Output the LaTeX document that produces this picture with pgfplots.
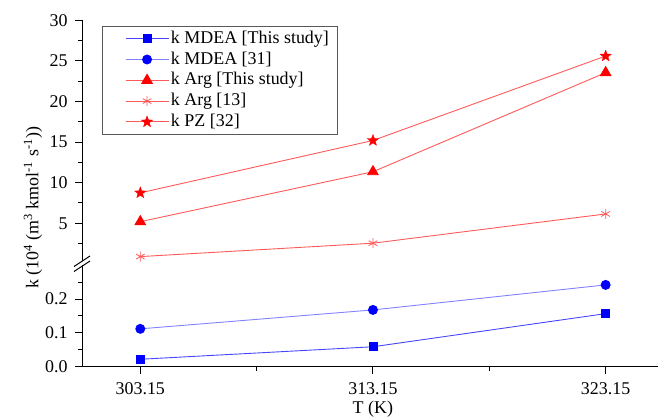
\documentclass[border=0pt]{standalone}
\usepackage{fontspec}
\setmainfont{Liberation Serif}
\usepackage{pgfplots}
\pgfplotsset{compat=1.18}

\definecolor{mblue}{RGB}{0,0,255}
\definecolor{lblue1}{RGB}{70,70,255}
\definecolor{lblue2}{RGB}{130,130,255}
\definecolor{mred}{RGB}{255,0,0}
\definecolor{lred}{RGB}{255,90,90}

% filled five-pointed star
\pgfdeclareplotmark{fstar}{%
  \pgfpathmoveto{\pgfqpointpolar{90}{\pgfplotmarksize}}%
  \pgfpathlineto{\pgfqpointpolar{126}{0.42\pgfplotmarksize}}%
  \pgfpathlineto{\pgfqpointpolar{162}{\pgfplotmarksize}}%
  \pgfpathlineto{\pgfqpointpolar{198}{0.42\pgfplotmarksize}}%
  \pgfpathlineto{\pgfqpointpolar{234}{\pgfplotmarksize}}%
  \pgfpathlineto{\pgfqpointpolar{270}{0.42\pgfplotmarksize}}%
  \pgfpathlineto{\pgfqpointpolar{306}{\pgfplotmarksize}}%
  \pgfpathlineto{\pgfqpointpolar{342}{0.42\pgfplotmarksize}}%
  \pgfpathlineto{\pgfqpointpolar{18}{\pgfplotmarksize}}%
  \pgfpathlineto{\pgfqpointpolar{54}{0.42\pgfplotmarksize}}%
  \pgfpathclose\pgfusepathqfillstroke}

\newcommand\lbl{\fontsize{18}{21}\selectfont}

\pgfplotsset{
  brk/.style={
    scale only axis, width=576bp,
    xmin=300.645, xmax=325.4,
    clip=false,
    tick align=outside,
    axis line style={line width=1bp, black},
    every tick/.style={black, line width=1bp},
    major tick length=7bp, minor tick length=4bp,
    tick label style={font=\lbl},
    yticklabel style={xshift=-4bp},
    /pgf/number format/assume math mode=true,
  },
  mdea1/.style={color=lblue1, line width=0.9bp, mark=square*, mark size=4bp, mark options={mblue, fill=mblue}},
  mdea2/.style={color=lblue2, line width=0.9bp, mark=*, mark size=4.5bp, mark options={mblue, fill=mblue}},
  arg1/.style={color=lred, line width=0.9bp, mark=triangle*, mark size=6bp, mark options={mred, fill=mred}},
  arg2/.style={color=lred, line width=0.9bp, mark=asterisk, mark size=5bp, mark options={lred, line width=0.8bp}},
  pz/.style={color=lred, line width=0.9bp, mark=fstar, mark size=6bp, mark options={mred, fill=mred, line width=0.3bp}},
}

\begin{document}
\begin{tikzpicture}
\useasboundingbox (0,0) rectangle (658bp,420bp);

% lower part of the broken axis
\begin{axis}[brk,
  at={(82bp,53.3bp)}, anchor=south west,
  height=101.4bp,
  axis x line*=bottom, axis y line*=left,
  ymin=0, ymax=0.3,
  xtick={303.15,313.15,323.15},
  xticklabels={303.15,313.15,323.15},
  xticklabel style={yshift=-5bp},
  minor xtick={308.15,318.15},
  ytick={0,0.1,0.2}, yticklabels={0.0,0.1,0.2},
  minor ytick={0.05,0.15,0.25},
  xlabel={T (K)},
  xlabel style={font=\lbl, at={(axis description cs:0.505,0)}, anchor=center, yshift=-42.5bp},
]
\addplot[mdea1] coordinates {(303.15,0.022) (313.15,0.059) (323.15,0.157)};
\addplot[mdea2] coordinates {(303.15,0.112) (313.15,0.168) (323.15,0.242)};
\end{axis}

% upper part of the broken axis
\begin{axis}[brk,
  at={(82bp,156.1bp)}, anchor=south west,
  height=243.6bp,
  axis x line=none, axis y line*=left,
  ymin=0, ymax=30,
  ytick={5,10,...,30},
  minor ytick={2.5,7.5,...,27.5},
  legend style={at={(rel axis cs:0.0342,0.977)}, anchor=north west,
    draw=gray!70!black, line width=0.8bp, font=\lbl,
    inner xsep=6bp, inner ysep=2bp, row sep=0pt,
    nodes={text height=13bp, text depth=4bp, inner ysep=1.9bp, inner xsep=2bp}},
  legend cell align=left,
  legend image code/.code={%
    \path (0bp,0bp);
    \draw[mark repeat=2, mark phase=2, #1] plot coordinates {(17bp,0bp) (38.5bp,0bp) (60bp,0bp)};},
]
\addlegendimage{mdea1}
\addlegendentry{k MDEA [This study]}
\addlegendimage{mdea2}
\addlegendentry{k MDEA [31]}
\addplot[arg1] coordinates {(303.15,5.2) (313.15,11.35) (323.15,23.55)};
\addlegendentry{k Arg [This study]}
\addplot[arg2] coordinates {(303.15,0.9) (313.15,2.55) (323.15,6.15)};
\addlegendentry{k Arg [13]}
\addplot[pz] coordinates {(303.15,8.75) (313.15,15.2) (323.15,25.6)};
\addlegendentry{k PZ [32]}
\end{axis}

% axis break mark
\fill[white] (74bp,150bp) -- (90bp,160.5bp) -- (90bp,164bp) -- (74bp,153.5bp) -- cycle;
\draw[line width=1bp] (74bp,148.5bp) -- (90bp,159bp);
\draw[line width=1bp] (74bp,153.5bp) -- (90bp,164bp);

% y label
\node[rotate=90, font=\lbl] at (33bp,212bp)
  {k (10\textsuperscript{4} (m\textsuperscript{3} kmol\textsuperscript{-1} s\textsuperscript{-1}))};
\end{tikzpicture}
\end{document}
